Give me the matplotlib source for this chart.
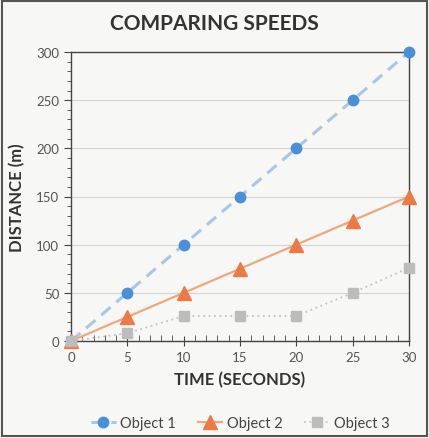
import matplotlib.pyplot as plt
from matplotlib.ticker import MultipleLocator
from matplotlib.patches import Rectangle

time_s = [0, 5, 10, 15, 20, 25, 30]
object1 = [0, 50, 100, 150, 200, 250, 300]
object2 = [0, 25, 50, 75, 100, 125, 150]
object3 = [0, 8, 26, 26, 26, 50, 76]

plt.rcParams['font.family'] = ['Lato', 'DejaVu Sans']

fig = plt.figure(figsize=(4.29, 4.39), dpi=100)
fig.patch.set_facecolor('#f7f7f5')
ax = fig.add_axes([71/429, 1 - 342/439, 338/429, 289/439])
ax.set_facecolor('#f7f7f5')

ax.plot(time_s, object1, color='#a9c6e8', lw=2.2, ls=(0, (4, 2.5)),
        marker='o', ms=7.5, mfc='#4a90d9', mec='#4a90d9', label='Object 1', clip_on=False, zorder=3)
ax.plot(time_s, object2, color='#f2a77a', lw=1.6,
        marker='^', ms=9.5, mfc='#ec7a45', mec='#ec7a45', label='Object 2', clip_on=False, zorder=4)
ax.plot(time_s, object3, color='#c3c3c3', lw=1.3, ls=(0, (1, 2)),
        marker='s', ms=7.5, mfc='#bcbcbc', mec='#bcbcbc', label='Object 3', clip_on=False, zorder=5)

ax.set_xlim(0, 30)
ax.set_ylim(0, 300)
ax.xaxis.set_major_locator(MultipleLocator(5))
ax.xaxis.set_minor_locator(MultipleLocator(1))
ax.yaxis.set_major_locator(MultipleLocator(50))
ax.yaxis.set_minor_locator(MultipleLocator(10))
ax.grid(axis='y', which='major', color='#d4d4d4', lw=0.8)
ax.set_axisbelow(True)

for s in ax.spines.values():
    s.set_color('#444444')
    s.set_linewidth(1.0)

ax.tick_params(axis='both', which='major', labelsize=9.5, colors='#444444', labelcolor='#555555')
ax.tick_params(axis='x', which='major', direction='inout', length=7)
ax.tick_params(axis='x', which='minor', direction='in', length=4, color='#444444')
ax.tick_params(axis='y', which='major', direction='out', length=5)
ax.tick_params(axis='y', which='minor', direction='out', length=3, color='#444444')

ax.set_xlabel('TIME (SECONDS)', fontsize=12, fontweight='bold', color='#333333', labelpad=6)
ax.set_ylabel('DISTANCE (m)', fontsize=12, fontweight='bold', color='#333333', labelpad=8)
fig.text(0.5, 1 - 24/439, 'COMPARING SPEEDS', ha='center', va='center',
         fontsize=15, fontweight='bold', color='#333333')

ax.legend(loc='center', bbox_to_anchor=(0.5, -0.285), ncol=3, frameon=False,
          fontsize=10.5, handlelength=1.7, handletextpad=0.3, columnspacing=1.5,
          labelcolor='#444444')

fig.patches.append(Rectangle((0.004, 0.004), 0.992, 0.992, transform=fig.transFigure,
                             fill=False, ec='#555555', lw=1.5))

fig.savefig('out.png', dpi=100, facecolor=fig.get_facecolor())
